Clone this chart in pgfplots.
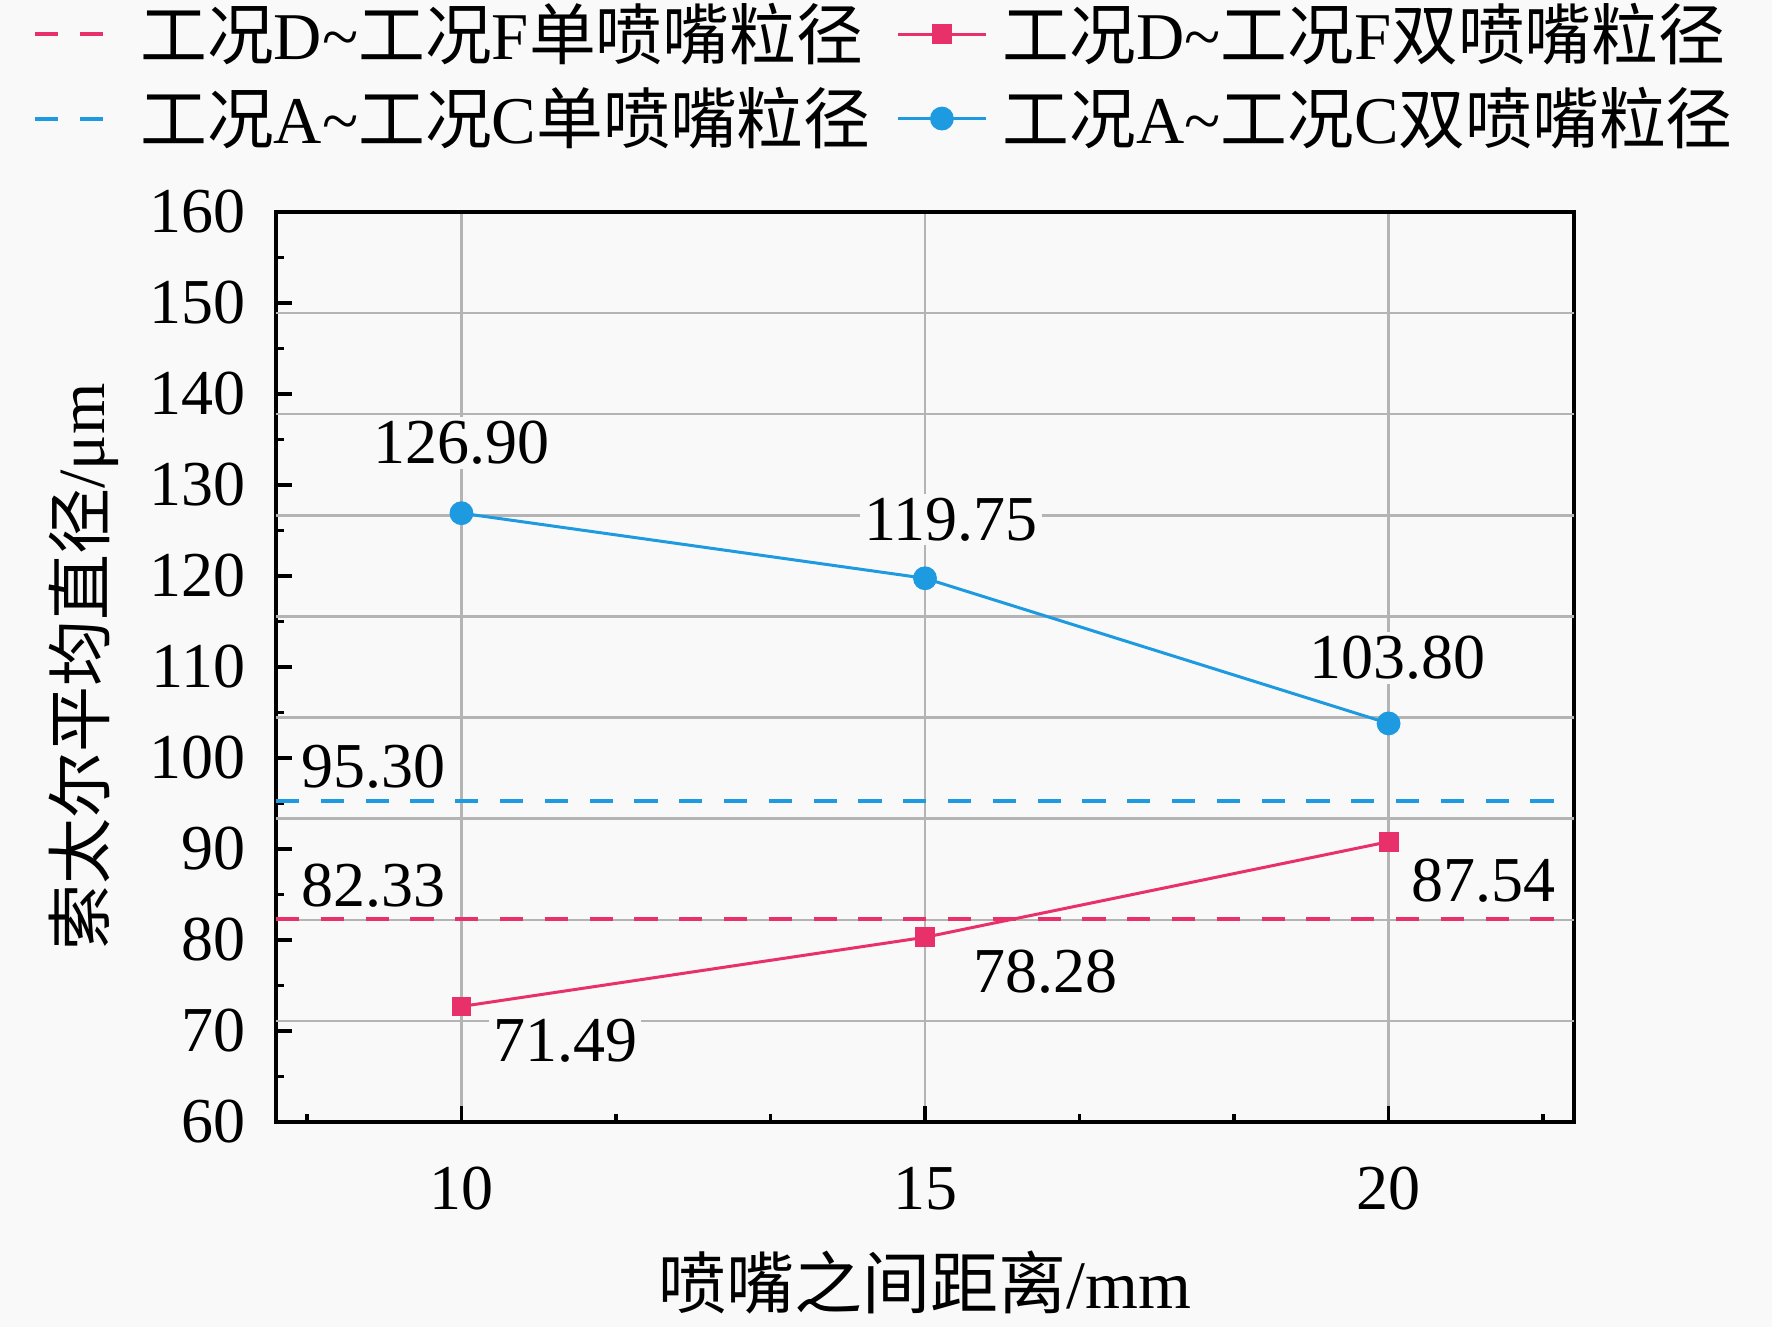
\documentclass[border=0pt]{standalone}
\usepackage{pgfplots}
\pgfplotsset{compat=1.18}
\usepackage{fontspec}
\setmainfont{Liberation Serif}
\newfontfamily\cjk{Noto Sans CJK SC}
\definecolor{cpink}{HTML}{E8306A}
\definecolor{cblue}{HTML}{1E9BE0}
\definecolor{bgc}{HTML}{F9F9F9}
\definecolor{cgrid}{HTML}{B4B4B4}
\begin{document}
\begin{tikzpicture}
\path[use as bounding box, fill=bgc] (-69pt,-51.25pt) rectangle (374pt,280.5pt);
\begin{axis}[
  at={(0pt,0pt)}, anchor=south west,
  scale only axis, width=324.5pt, height=227.5pt,
  xmin=8, xmax=22, ymin=60, ymax=160,
  xtick={10,15,20}, ytick={60,70,...,160},
  minor xtick={8.3333,11.6667,13.3333,16.6667,18.3333,21.6667},
  minor ytick={65,75,...,155},
  xtick pos=bottom, ytick pos=left,
  tick align=inside,
  major tick length=4pt, minor tick length=2pt,
  every tick/.style={black, line width=0.9pt},
  axis line style={black, line width=1pt},
  xmajorgrids=true, ymajorgrids=false,
  major grid style={cgrid, line width=0.6pt},
  extra y ticks={71.111,82.222,93.333,104.444,115.556,126.667,137.778,148.889},
  extra y tick labels={},
  extra y tick style={ymajorgrids=true, major tick length=0pt, major grid style={cgrid, line width=0.6pt}},
  /pgf/number format/assume math mode=true,
  tick label style={font=\fontsize{16}{19}\selectfont},
  yticklabel style={anchor=east, inner sep=0pt, xshift=-7.5pt},
  xticklabel style={anchor=center, inner sep=0pt, yshift=-16.75pt},
  xlabel={{\cjk 喷嘴之间距离}/mm},
  ylabel={{\cjk 索太尔平均直径}/μm},
  xlabel style={font=\fontsize{17}{20}\selectfont, at={(axis description cs:0.5,-0.176)}, anchor=center},
  ylabel style={font=\fontsize{16.5}{20}\selectfont, at={(axis description cs:-0.148,0.5)}, anchor=center},
  legend columns=2,
  legend style={at={(axis description cs:-0.197,1.149)}, anchor=west, draw=none, fill=none,
    font=\fontsize{16.7}{20}\selectfont, column sep=2.8pt, row sep=1.5pt,
    nodes={inner xsep=1pt},
    /tikz/every even column/.append style={column sep=5.5pt}},
  legend cell align=left,
  legend image code/.code={\draw[mark repeat=2,mark phase=2,#1] plot coordinates {(0pt,0pt) (11pt,0pt) (22pt,0pt)};},
]
\addplot[cpink, line width=1pt, dash pattern=on 5.8pt off 5.4pt] coordinates {(8,82.33) (22,82.33)};
\addlegendentry{{\cjk 工况}D\textasciitilde{\cjk 工况}F{\cjk 单喷嘴粒径}}
\addplot[cpink, line width=0.75pt, mark=square*, mark size=2.1pt, mark options={solid}] coordinates {(10,72.7) (15,80.3) (20,90.8)};
\addlegendentry{{\cjk 工况}D\textasciitilde{\cjk 工况}F{\cjk 双喷嘴粒径}}
\addplot[cblue, line width=1pt, dash pattern=on 5.8pt off 5.4pt] coordinates {(8,95.30) (22,95.30)};
\addlegendentry{{\cjk 工况}A\textasciitilde{\cjk 工况}C{\cjk 单喷嘴粒径}}
\addplot[cblue, line width=0.75pt, mark=*, mark size=2.6pt, mark options={solid}] coordinates {(10,126.90) (15,119.75) (20,103.80)};
\addlegendentry{{\cjk 工况}A\textasciitilde{\cjk 工况}C{\cjk 双喷嘴粒径}}
\begin{scope}[every node/.style={fill=bgc, inner sep=1pt, font=\fontsize{16}{19}\selectfont}]
\node at (axis cs:10,134.6) {126.90};
\node at (axis cs:15.28,126.2) {119.75};
\node at (axis cs:20.1,111.0) {103.80};
\node at (axis cs:9.05,99.1) {95.30};
\node at (axis cs:9.05,86.0) {82.33};
\node at (axis cs:11.12,68.9) {71.49};
\node at (axis cs:16.30,76.5) {78.28};
\node at (axis cs:21.02,86.5) {87.54};
\end{scope}
\end{axis}
\end{tikzpicture}
\end{document}
